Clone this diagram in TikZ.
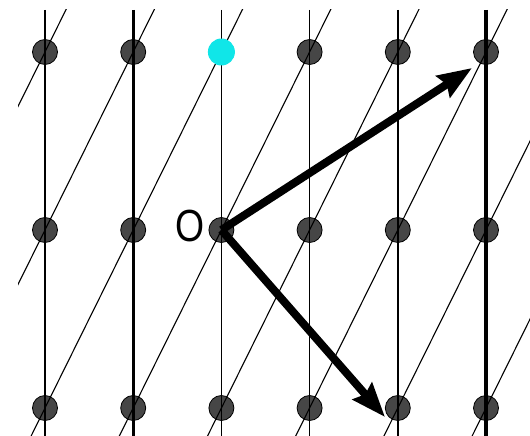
\documentclass[tikz,border=0pt]{standalone}
\usepackage{fontspec}
\setmainfont{Liberation Sans}
\usetikzlibrary{arrows.meta}
\definecolor{dotgray}{RGB}{70,70,70}
\definecolor{cyanpt}{RGB}{16,230,232}
\begin{document}
\begin{tikzpicture}[x=1pt,y=-1pt,
  latpt/.style={circle,fill=dotgray,draw=black,line width=0.8pt,minimum size=25pt,inner sep=0pt},
  special/.style={circle,fill=cyanpt,minimum size=27pt,inner sep=0pt},
  vline/.style={line width=1.7pt},
  vthick/.style={line width=3pt},
  vthicker/.style={line width=3.5pt},
  slant/.style={line width=1.1pt},
  vec/.style={line width=8pt,-{Stealth[length=34pt,width=25pt,inset=4pt]}},
  lbl/.style={font=\fontsize{45}{45}\selectfont,inner sep=0pt}]
\useasboundingbox (0,0) rectangle (530,436);
\coordinate (top) at (0,10);
\coordinate (bot) at (0,436);
% lattice points
\foreach \i in {0,...,5} {
  \foreach \j in {0,1,2} {
    \node[latpt] (p\i\j) at ({45+88.2*\i},{52+178*\j}) {};
  }
}
% lines
\begin{scope}
\clip (18,10) rectangle (530,436);
\foreach \i in {0,2,3,4} {
  \draw[vline] (p\i0 |- top) -- (p\i2 |- bot);
}
\draw[vthick] (p10 |- top) -- (p12 |- bot);
\draw[vthicker] (p50 |- top) -- (p52 |- bot);
\foreach \c in {0,...,7} {
  \draw[slant] ({45+88.2*(\c+1)},-126) -- ({45+88.2*(\c-3)},586);
}
\end{scope}
% special point
\node[special] (s) at (p20) {};
% vectors
\coordinate (t1) at (472,68);
\coordinate (t2) at (385,417);
\draw[vec] (p21.center) -- (t1);
\draw[vec] (p21.center) -- (t2);
% origin label
\node[lbl] (o) at (190.5,226.5) {\scalebox{0.83}[1]{O}};
\end{tikzpicture}
\end{document}
